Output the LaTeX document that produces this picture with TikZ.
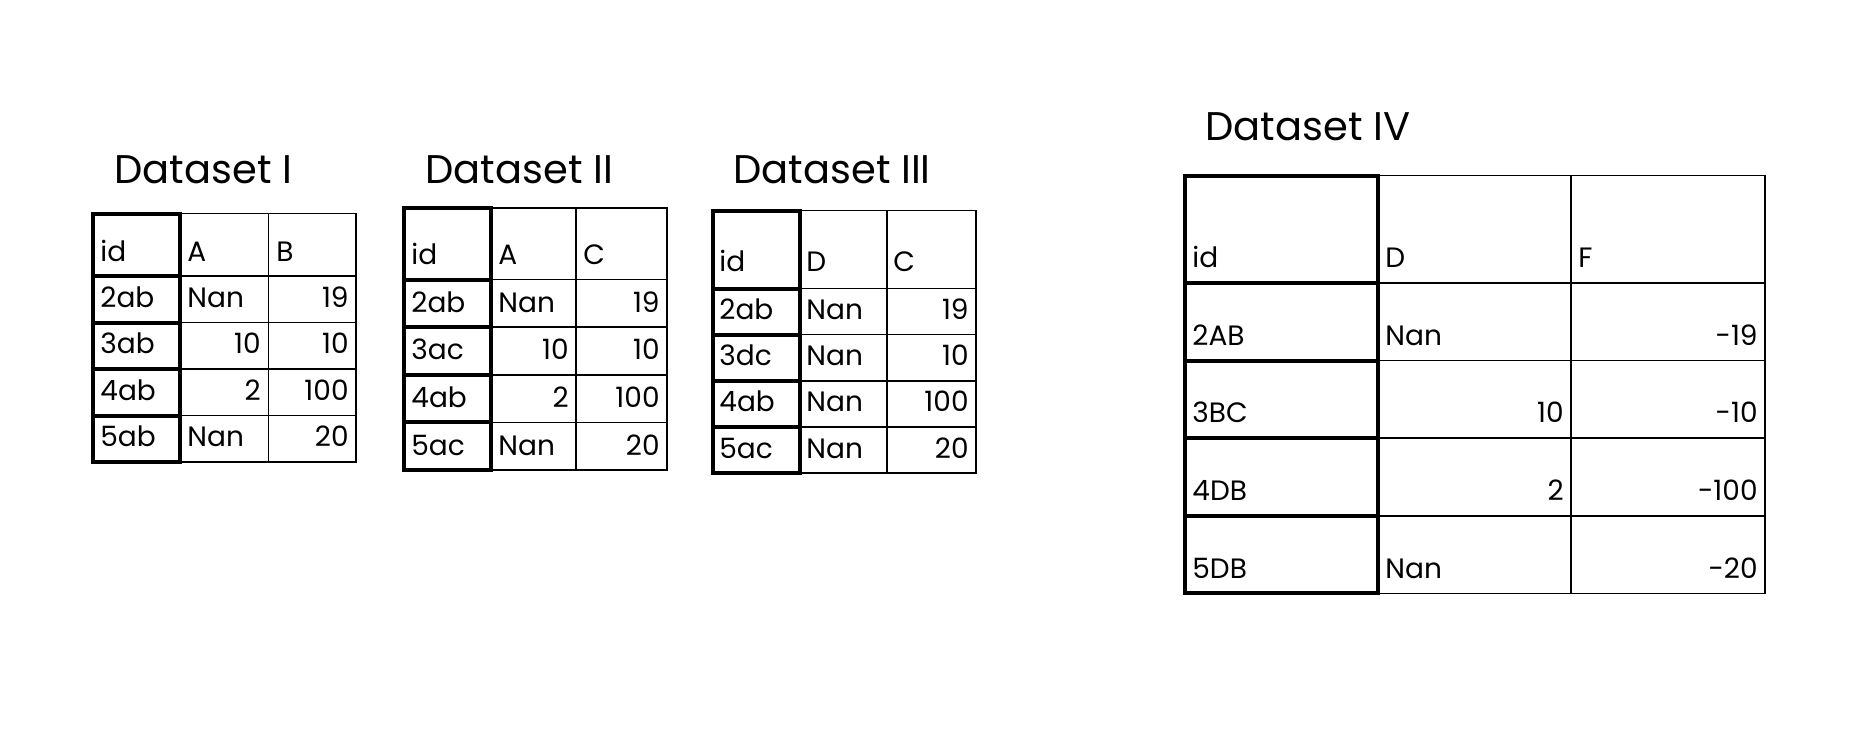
\documentclass[tikz,border=0pt]{standalone}
\usepackage{fontspec}
\setmainfont{Poppins}
\tikzset{
  thinln/.style={line width=0.8pt, draw=black},
  thickln/.style={line width=2pt, draw=black, line cap=rect},
  ttl/.style={inner sep=0pt, anchor=base west, font=\fontsize{20}{24}\selectfont},
  cl/.style={inner sep=0pt, anchor=base west, font=\fontsize{14}{16}\selectfont},
  cr/.style={inner sep=0pt, anchor=base east, font=\fontsize{14}{16}\selectfont},
}
% #1 x0, #2 x1, #3 x2, #4 x3, #5 y0, #6 header bottom, #7 row height
\newcommand{\tblgrid}[7]{%
  \draw[thinln] (#1,#5) rectangle (#4,{#6+4*#7});
  \draw[thinln] (#3,#5) -- (#3,{#6+4*#7});
  \foreach \k in {0,1,2,3} \draw[thinln] (#2,{#6+\k*#7}) -- (#4,{#6+\k*#7});
  \draw[thickln] (#1,#5) rectangle (#2,{#6+4*#7});
  \foreach \k in {0,1,2,3} \draw[thickln] (#1,{#6+\k*#7}) -- (#2,{#6+\k*#7});
}
\begin{document}
\begin{tikzpicture}[x=0.5pt, y=-0.5pt]
\useasboundingbox[fill=white] (0,0) rectangle (1874,736);

% ---------- Dataset I ----------
\node[ttl] (t1) at (114,183) {Dataset I};
\tblgrid{92.5}{180}{268.5}{356}{213.5}{276}{46.5}
\node[cl] (a-h1) at (100,261) {id};
\node[cl] (a-h2) at (187,261) {A};
\node[cl] (a-h3) at (276,261) {B};
\node[cl] (a-r1c1) at (100,307) {2ab};
\node[cl] (a-r1c2) at (187,307) {Nan};
\node[cr] (a-r1c3) at (349,307) {19};
\node[cl] (a-r2c1) at (100,353.5) {3ab};
\node[cr] (a-r2c2) at (261,353.5) {10};
\node[cr] (a-r2c3) at (349,353.5) {10};
\node[cl] (a-r3c1) at (100,400) {4ab};
\node[cr] (a-r3c2) at (261,400) {2};
\node[cr] (a-r3c3) at (349,400) {100};
\node[cl] (a-r4c1) at (100,446.5) {5ab};
\node[cl] (a-r4c2) at (187,446.5) {Nan};
\node[cr] (a-r4c3) at (349,446.5) {20};

% ---------- Dataset II ----------
\node[ttl] (t2) at (425,183) {Dataset II};
\tblgrid{404}{491}{576}{667}{208}{279.5}{47.6}
\node[cl] (b-h1) at (411,264.5) {id};
\node[cl] (b-h2) at (498,264.5) {A};
\node[cl] (b-h3) at (583,264.5) {C};
\node[cl] (b-r1c1) at (411,312) {2ab};
\node[cl] (b-r1c2) at (498,312) {Nan};
\node[cr] (b-r1c3) at (660,312) {19};
\node[cl] (b-r2c1) at (411,359.5) {3ac};
\node[cr] (b-r2c2) at (569,359.5) {10};
\node[cr] (b-r2c3) at (660,359.5) {10};
\node[cl] (b-r3c1) at (411,407) {4ab};
\node[cr] (b-r3c2) at (569,407) {2};
\node[cr] (b-r3c3) at (660,407) {100};
\node[cl] (b-r4c1) at (411,455) {5ac};
\node[cl] (b-r4c2) at (498,455) {Nan};
\node[cr] (b-r4c3) at (660,455) {20};

% ---------- Dataset III ----------
\node[ttl] (t3) at (733,183) {Dataset III};
\tblgrid{713}{800}{887}{976}{210.5}{288.5}{46.1}
\node[cl] (c-h1) at (719,271) {id};
\node[cl] (c-h2) at (806,271) {D};
\node[cl] (c-h3) at (893,271) {C};
\node[cl] (c-r1c1) at (719,319.5) {2ab};
\node[cl] (c-r1c2) at (806,319.5) {Nan};
\node[cr] (c-r1c3) at (969,319.5) {19};
\node[cl] (c-r2c1) at (719,365.5) {3dc};
\node[cl] (c-r2c2) at (806,365.5) {Nan};
\node[cr] (c-r2c3) at (969,365.5) {10};
\node[cl] (c-r3c1) at (719,411.5) {4ab};
\node[cl] (c-r3c2) at (806,411.5) {Nan};
\node[cr] (c-r3c3) at (969,411.5) {100};
\node[cl] (c-r4c1) at (719,458) {5ac};
\node[cl] (c-r4c2) at (806,458) {Nan};
\node[cr] (c-r4c3) at (969,458) {20};

% ---------- Dataset IV ----------
\node[ttl] (t4) at (1205,140) {Dataset IV};
\tblgrid{1185}{1378}{1571}{1765}{175.5}{283}{77.6}
\node[cl] (d-h1) at (1192,267) {id};
\node[cl] (d-h2) at (1385,267) {D};
\node[cl] (d-h3) at (1578,267) {F};
\node[cl] (d-r1c1) at (1192,345) {2AB};
\node[cl] (d-r1c2) at (1385,345) {Nan};
\node[cr] (d-r1c3) at (1758,345) {-19};
\node[cl] (d-r2c1) at (1192,422.5) {3BC};
\node[cr] (d-r2c2) at (1564,422.5) {10};
\node[cr] (d-r2c3) at (1758,422.5) {-10};
\node[cl] (d-r3c1) at (1192,500) {4DB};
\node[cr] (d-r3c2) at (1564,500) {2};
\node[cr] (d-r3c3) at (1758,500) {-100};
\node[cl] (d-r4c1) at (1192,578) {5DB};
\node[cl] (d-r4c2) at (1385,578) {Nan};
\node[cr] (d-r4c3) at (1758,578) {-20};
\end{tikzpicture}
\end{document}
